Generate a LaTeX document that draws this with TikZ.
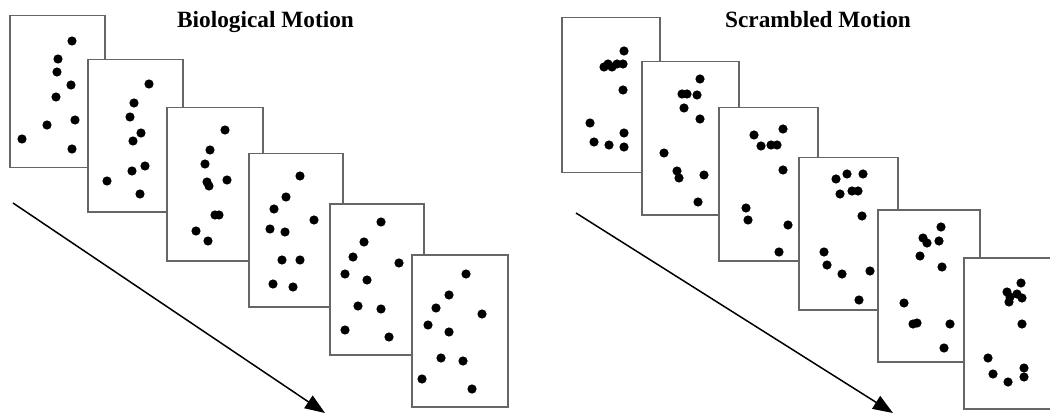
\documentclass[tikz,border=0pt]{standalone}
\usepackage{fontspec}
\setmainfont{Liberation Serif}
\usepackage{tikz}
\usetikzlibrary{arrows.meta, positioning}

\begin{document}
\begin{tikzpicture}[x=1pt, y=-1pt,
  slide/.style={rectangle, draw=black!60, line width=1.5pt, fill=white, inner sep=0pt,
    anchor=north west, minimum width=95pt, minimum height=152pt},
  heading/.style={font=\fontsize{23.3}{28}\selectfont\bfseries, anchor=base},
  timearrow/.style={line width=1.5pt, -{Triangle[length=20pt, width=15pt]}}]
\useasboundingbox (0,0) rectangle (1050,417);

% biological motion
\node[heading] (bioTitle) at (265.5,28) {Biological Motion};
\coordinate (bioStart) at (13,203);
\coordinate (bioEnd) at (325,413);
\draw[timearrow] (bioStart) -- (bioEnd);
\node[slide] (bio1) at (9,15) {};
\foreach \p in {(72,41),(58,59),(57,72),(71,85),(56,97),(47,125),(75,120),(22,139),(72,149)} \fill \p circle (4.6pt);
\node[slide] (bio2) at (87,59) {};
\foreach \p in {(149,84),(134,103),(130,117),(141,133),(133,141),(145,166),(132,171),(107,181),(140,194)} \fill \p circle (4.6pt);
\node[slide, minimum width=96pt, minimum height=153pt] (bio3) at (166,107) {};
\foreach \p in {(225,130),(210,150),(205,164),(207,182),(209,186),(227,180),(215,215),(219,215),(196,231),(208,241)} \fill \p circle (4.6pt);
\node[slide, minimum width=94pt, minimum height=153pt] (bio4) at (248,153) {};
\foreach \p in {(300,176),(286,197),(274,209),(314,220),(270,229),(285,232),(282,260),(300,260),(273,284),(293,287)} \fill \p circle (4.6pt);
\node[slide, minimum width=94pt, minimum height=151pt] (bio5) at (329,203) {};
\foreach \p in {(381,222),(364,242),(353,257),(399,263),(345,274),(367,280),(358,306),(381,309),(345,330),(389,337)} \fill \p circle (4.6pt);
\node[slide, minimum width=96pt] (bio6) at (411,254) {};
\foreach \p in {(466,274),(449,295),(436,308),(482,314),(428,325),(449,332),(441,358),(463,361),(422,379),(472,389)} \fill \p circle (4.6pt);

% scrambled motion
\node[heading] (scrTitle) at (818,28) {Scrambled Motion};
\coordinate (scrStart) at (576,213);
\coordinate (scrEnd) at (893,413);
\draw[timearrow] (scrStart) -- (scrEnd);
\node[slide, minimum width=98pt, minimum height=155pt] (scr1) at (561,17) {};
\foreach \p in {(624,51),(604,67),(608,64),(612,67),(617,64),(623,64),(623,90),(590,123),(624,133),(594,142),(609,145),(624,147)} \fill \p circle (4.6pt);
\node[slide, minimum width=97pt, minimum height=153pt] (scr2) at (641,61) {};
\foreach \p in {(700,79),(682,94),(687,94),(697,95),(684,108),(700,119),(664,153),(677,171),(679,178),(704,175),(698,202)} \fill \p circle (4.6pt);
\node[slide, minimum width=99pt, minimum height=153pt] (scr3) at (718,107) {};
\foreach \p in {(783,129),(754,135),(761,146),(771,145),(777,145),(783,170),(746,208),(748,220),(788,225),(779,252)} \fill \p circle (4.6pt);
\node[slide, minimum width=99pt] (scr4) at (798,157) {};
\foreach \p in {(836,179),(847,174),(863,174),(840,194),(852,191),(858,191),(862,216),(824,252),(827,265),(842,274),(870,271),(859,300)} \fill \p circle (4.6pt);
\node[slide, minimum width=102pt] (scr5) at (877,209) {};
\foreach \p in {(941,227),(923,238),(927,243),(939,241),(920,256),(942,267),(904,303),(913,324),(917,323),(950,324),(944,348)} \fill \p circle (4.6pt);
\node[slide, minimum width=100pt, minimum height=151pt] (scr6) at (963,257) {};
\foreach \p in {(1021,283),(1007,292),(1010,297),(1009,302),(1017,294),(1022,298),(1022,324),(988,358),(993,374),(1008,382),(1024,368),(1024,377)} \fill \p circle (4.6pt);
\end{tikzpicture}
\end{document}
